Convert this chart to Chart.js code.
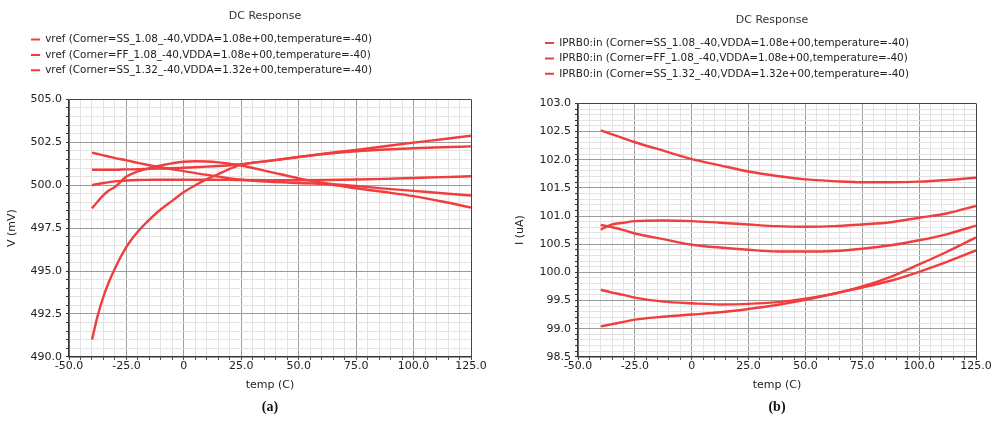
<!DOCTYPE html>
<html>
<head>
<meta charset="utf-8">
<script src="https://cdn.jsdelivr.net/npm/chart.js@4.4.1/dist/chart.umd.min.js"></script>
<style>
  html, body { margin: 0; padding: 0; background: #fff; }
  .panel { position: absolute; top: 0; width: 496px; height: 425px; }
</style>
</head>
<body>
<div class="panel" style="left:0"><canvas id="vrefChart"></canvas></div>
<div class="panel" style="left:496px"><canvas id="iprbChart"></canvas></div>
<script>
// ---- (a) vref vs temperature ----
var tempA = [-40, -37.5, -35, -32.5, -30, -25, -20, -15, -10, -5, 0, 5, 10, 15, 20, 25, 37.5, 50, 62.5, 75, 87.5, 100, 112.5, 125];
var vrefSS108 = [501.9, 501.82, 501.74, 501.66, 501.58, 501.45, 501.3, 501.16, 501.03, 500.92, 500.82, 500.7, 500.6, 500.5, 500.4, 500.32, 500.2, 500.13, 500.05, 499.82, 499.6, 499.36, 499.05, 498.7];
var vrefFF108 = [500.9, 500.9, 500.9, 500.9, 500.9, 500.92, 500.93, 500.95, 500.97, 500.99, 501.02, 501.05, 501.08, 501.12, 501.16, 501.22, 501.43, 501.64, 501.83, 501.98, 502.08, 502.15, 502.21, 502.26];
var vrefSS132 = [500.0, 500.07, 500.13, 500.18, 500.22, 500.27, 500.3, 500.31, 500.32, 500.32, 500.32, 500.32, 500.32, 500.31, 500.31, 500.3, 500.29, 500.29, 500.3, 500.33, 500.37, 500.42, 500.47, 500.52];
var vrefFF132 = [498.65, 499.05, 499.42, 499.7, 499.9, 500.5, 500.8, 501.0, 501.15, 501.28, 501.37, 501.4, 501.38, 501.33, 501.25, 501.15, 500.78, 500.4, 500.1, 499.95, 499.8, 499.67, 499.53, 499.4];
var vrefTT = [491.0, 492.4, 493.5, 494.4, 495.15, 496.4, 497.3, 498.0, 498.6, 499.1, 499.6, 500.0, 500.35, 500.65, 500.95, 501.2, 501.42, 501.65, 501.86, 502.06, 502.27, 502.48, 502.68, 502.88];

// ---- (b) IPRB0:in vs temperature ----
var tempB = [-40, -35, -30, -25, -12.5, 0, 12.5, 25, 37.5, 50, 62.5, 75, 87.5, 100, 112.5, 125];
var iprbSS108 = [102.52, 102.45, 102.38, 102.31, 102.16, 102.01, 101.9, 101.79, 101.71, 101.65, 101.62, 101.6, 101.6, 101.61, 101.64, 101.68];
var iprbFF108 = [100.76, 100.85, 100.88, 100.91, 100.92, 100.91, 100.88, 100.85, 100.82, 100.81, 100.82, 100.85, 100.89, 100.97, 101.05, 101.18];
var iprbSS132 = [100.84, 100.8, 100.75, 100.69, 100.59, 100.49, 100.44, 100.4, 100.37, 100.37, 100.38, 100.42, 100.48, 100.57, 100.68, 100.83];
var iprbFF132 = [99.69, 99.64, 99.6, 99.55, 99.48, 99.45, 99.43, 99.44, 99.47, 99.53, 99.62, 99.75, 99.92, 100.14, 100.37, 100.62];
var iprbTT = [99.04, 99.08, 99.12, 99.16, 99.21, 99.25, 99.29, 99.35, 99.42, 99.51, 99.62, 99.73, 99.85, 100.01, 100.19, 100.39];

var labelsA = [
  'vref (Corner=SS_1.08_-40,VDDA=1.08e+00,temperature=-40)',
  'vref (Corner=FF_1.08_-40,VDDA=1.08e+00,temperature=-40)',
  'vref (Corner=SS_1.32_-40,VDDA=1.32e+00,temperature=-40)',
  'vref (Corner=FF_1.32_-40,VDDA=1.32e+00,temperature=-40)',
  'vref (Corner=TT_1.20_-40,VDDA=1.20e+00,temperature=-40)'
];
var labelsB = [
  'IPRB0:in (Corner=SS_1.08_-40,VDDA=1.08e+00,temperature=-40)',
  'IPRB0:in (Corner=FF_1.08_-40,VDDA=1.08e+00,temperature=-40)',
  'IPRB0:in (Corner=SS_1.32_-40,VDDA=1.32e+00,temperature=-40)',
  'IPRB0:in (Corner=FF_1.32_-40,VDDA=1.32e+00,temperature=-40)',
  'IPRB0:in (Corner=TT_1.20_-40,VDDA=1.20e+00,temperature=-40)'
];

var RED = '#f03e3e';
var FONT = 'DejaVu Sans';

function makeSets(temps, series, labels) {
  return series.map(function (vals, i) {
    return {
      label: labels[i],
      data: vals.map(function (v, k) { return { x: temps[k], y: v }; }),
      borderColor: RED,
      backgroundColor: RED,
      borderWidth: 2.4,
      pointRadius: 0,
      cubicInterpolationMode: 'monotone',
      fill: false
    };
  });
}

// only the first three runs get a legend line, drawn as a thin red dash
function legendItems(chart) {
  var items = Chart.defaults.plugins.legend.labels.generateLabels(chart);
  return items.filter(function (it) { return it.datasetIndex < 3; }).map(function (it) {
    it.lineWidth = 0;
    it.fillStyle = RED;
    return it;
  });
}

// moves legend and title to fixed spots on the canvas
var placeBlocks = {
  id: 'placeBlocks',
  afterLayout: function (chart, args, opts) {
    var lg = chart.legend;
    var pad = lg.options.labels.padding;
    var fs = lg.options.labels.font.size;
    var dx = opts.legendX - (lg.left + pad);
    var dy = opts.legendY - (lg.top + pad + fs / 2);
    lg.left += dx; lg.right += dx; lg.top += dy; lg.bottom += dy;
    var tb = chart.titleBlock;
    var tx = opts.titleX - (tb.left + tb.right) / 2;
    tb.left += tx; tb.right += tx;
  }
};

function gridColor(edgeVal, isMajor) {
  return function (ctx) {
    if (!ctx.tick) return '#e3e3e3';
    var v = ctx.tick.value;
    if (Math.abs(v - edgeVal) < 1e-6) return '#444';
    return isMajor(v) ? '#9c9c9c' : '#e3e3e3';
  };
}

function makeChart(id, cfg) {
  return new Chart(document.getElementById(id), {
    type: 'line',
    data: { datasets: makeSets(cfg.temps, cfg.series, cfg.labels) },
    plugins: [placeBlocks],
    options: {
      responsive: true,
      maintainAspectRatio: false,
      animation: false,
      layout: { padding: { left: 0, right: cfg.padRight, top: 0, bottom: 0 } },
      plugins: {
        placeBlocks: cfg.place,
        title: {
          display: true, text: 'DC Response', fullSize: false, color: '#333',
          font: { family: FONT, size: 11, weight: 'normal' },
          padding: { top: cfg.titleTop, bottom: cfg.titleBottom }
        },
        subtitle: {
          display: true, text: cfg.tag, position: 'bottom', fullSize: false, color: '#111',
          font: { family: 'Liberation Serif', size: 14, weight: 'bold' },
          padding: { top: 3, bottom: 9 }
        },
        legend: {
          display: true, position: 'top', align: 'start', fullSize: false,
          labels: {
            color: '#222', boxWidth: 9, boxHeight: 2, padding: 5,
            font: { family: FONT, size: 10.4 },
            generateLabels: legendItems
          }
        },
        tooltip: { enabled: false }
      },
      scales: {
        x: {
          type: 'linear', min: -50, max: 125,
          grid: { color: gridColor(125, function (v) { return v % 25 === 0; }), tickLength: 3, tickColor: '#333' },
          border: { color: '#333', width: 1.5 },
          ticks: {
            stepSize: 5, autoSkip: false, maxRotation: 0, padding: 0, color: '#222',
            font: { family: FONT, size: 11 },
            callback: function (v) {
              if (v % 25 !== 0) return '';
              return v === 0 ? '0' : v.toFixed(1);
            }
          },
          title: { display: true, text: 'temp (C)', color: '#222', font: { family: FONT, size: 11 }, padding: { top: 6, bottom: 4 } }
        },
        y: {
          min: cfg.yMin, max: cfg.yMax,
          afterFit: function (scale) { scale.width = cfg.axisWidth; },
          grid: { color: gridColor(cfg.yMax, cfg.yMajor), tickLength: 3, tickColor: '#333' },
          border: { color: '#333', width: 1.5 },
          ticks: {
            stepSize: cfg.yStep, autoSkip: false, padding: 4, color: '#222',
            font: { family: FONT, size: 11 },
            callback: function (v) { return cfg.yMajor(v) ? v.toFixed(1) : ''; }
          },
          title: { display: true, text: cfg.yTitle, color: '#222', font: { family: FONT, size: 11 }, padding: { top: cfg.yTitlePad, bottom: 0 } }
        }
      }
    }
  });
}

makeChart('vrefChart', {
  temps: tempA,
  series: [vrefSS108, vrefFF108, vrefSS132, vrefFF132, vrefTT],
  labels: labelsA,
  tag: '(a)',
  padRight: 25,
  axisWidth: 69,
  yMin: 490, yMax: 505, yStep: 0.5,
  yMajor: function (v) { return Math.round(v * 2) % 5 === 0; },
  yTitle: 'V (mV)', yTitlePad: 6,
  titleTop: 10, titleBottom: 20,
  place: { legendX: 31, legendY: 39.5, titleX: 265 },
});

makeChart('iprbChart', {
  temps: tempB,
  series: [iprbSS108, iprbFF108, iprbSS132, iprbFF132, iprbTT],
  labels: labelsB,
  tag: '(b)',
  padRight: 16,
  axisWidth: 82,
  yMin: 98.5, yMax: 103, yStep: 0.1,
  yMajor: function (v) { return Math.round(v * 10) % 5 === 0; },
  yTitle: 'I (uA)', yTitlePad: 18,
  titleTop: 14, titleBottom: 20,
  place: { legendX: 49, legendY: 43, titleX: 276 }
});
</script>
</body>
</html>
